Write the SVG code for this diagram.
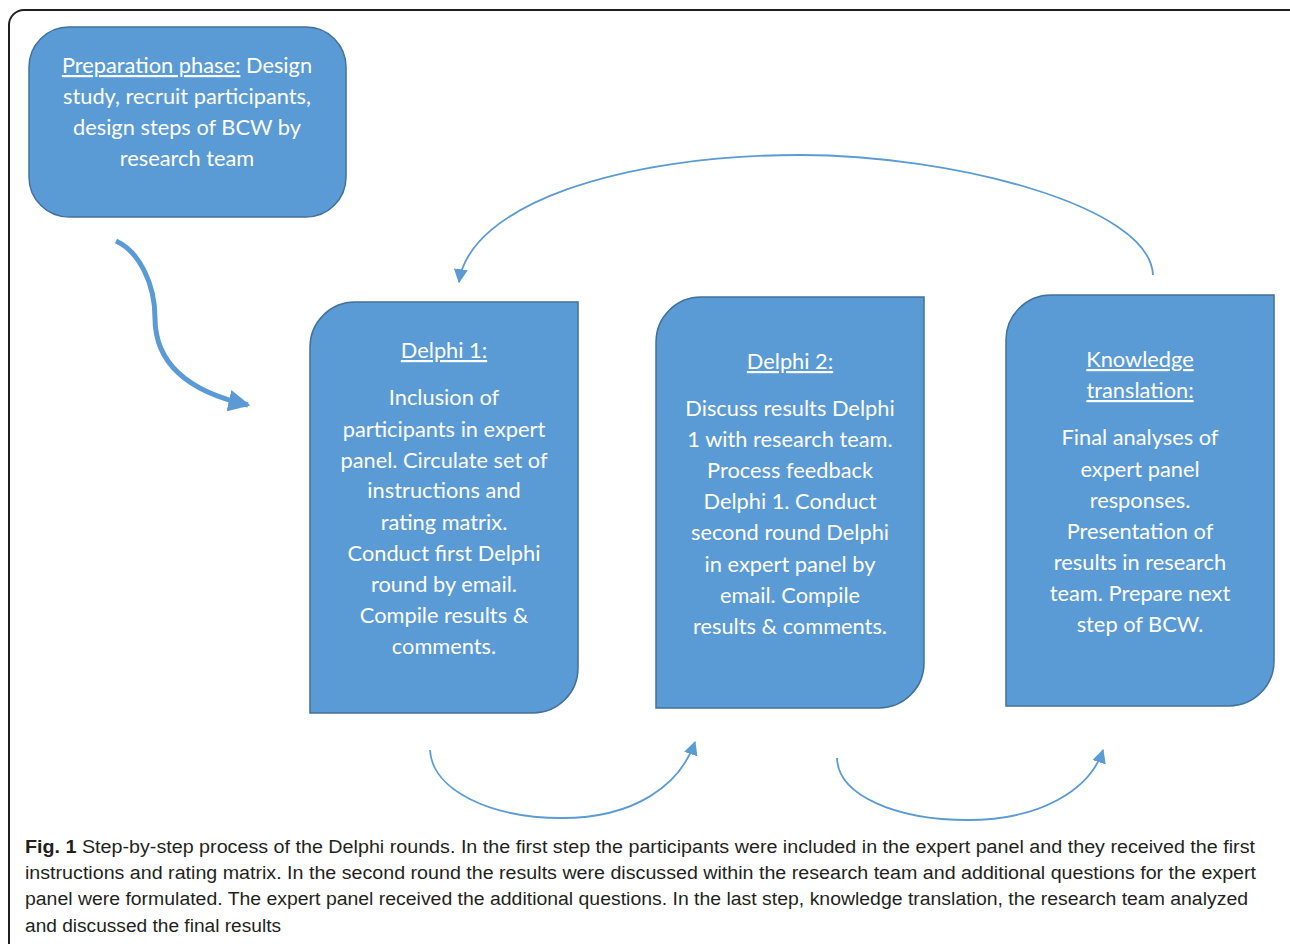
<svg xmlns="http://www.w3.org/2000/svg" width="1290" height="944" viewBox="0 0 1290 944">
<style>
.box{fill:#5B9BD5;stroke:#41719C;stroke-width:1.5}
.t{font-family:Lato,"Liberation Sans",sans-serif;font-size:21.8px;fill:#ffffff;text-anchor:middle}
.u{text-decoration:underline}
.cap{font-family:"Liberation Sans",Arial,sans-serif;font-size:18px;fill:#231f20}
.arc{fill:none;stroke:#5B9BD5;stroke-width:1.8}
</style>
<defs>
<marker id="hbig" markerUnits="userSpaceOnUse" markerWidth="22" markerHeight="22" refX="16" refY="9" orient="auto" viewBox="0 0 18 18">
<path d="M0,0 L18,9 L0,18 Z" fill="#5B9BD5"/>
</marker>
<marker id="hsm" markerUnits="userSpaceOnUse" markerWidth="14" markerHeight="14" refX="11" refY="6" orient="auto" viewBox="0 0 12 12">
<path d="M0,0 L12,6 L0,12 Z" fill="#5B9BD5"/>
</marker>
</defs>
<rect width="1290" height="944" fill="#ffffff"/>
<rect x="9" y="10" width="1300" height="1000" rx="15" fill="none" stroke="#231f20" stroke-width="2"/>

<g id="prep">
<rect class="box" x="29" y="27" width="317" height="190" rx="40"/>
<text class="t"><tspan x="187" y="73"><tspan class="u">Preparation phase:</tspan> Design</tspan><tspan x="187" y="104">study, recruit participants,</tspan><tspan x="187" y="135">design steps of BCW by</tspan><tspan x="187" y="166">research team</tspan></text>
</g>

<g id="delphi1">
<path class="box" d="M355,302 H578 V668 A45,45 0 0 1 533,713 H310 V347 A45,45 0 0 1 355,302 Z"/>
<text class="t"><tspan class="u" x="444" y="358">Delphi 1:</tspan><tspan x="444" y="405">Inclusion of</tspan><tspan x="444" y="437">participants in expert</tspan><tspan x="444" y="468">panel. Circulate set of</tspan><tspan x="444" y="498">instructions and</tspan><tspan x="444" y="530">rating matrix.</tspan><tspan x="444" y="561">Conduct first Delphi</tspan><tspan x="444" y="592">round by email.</tspan><tspan x="444" y="623">Compile results &amp;</tspan><tspan x="444" y="654">comments.</tspan></text>
</g>

<g id="delphi2">
<path class="box" d="M701,297 H924 V663 A45,45 0 0 1 879,708 H656 V342 A45,45 0 0 1 701,297 Z"/>
<text class="t"><tspan class="u" x="790" y="369">Delphi 2:</tspan><tspan x="790" y="416">Discuss results Delphi</tspan><tspan x="790" y="447">1 with research team.</tspan><tspan x="790" y="478">Process feedback</tspan><tspan x="790" y="509">Delphi 1. Conduct</tspan><tspan x="790" y="540">second round Delphi</tspan><tspan x="790" y="572">in expert panel by</tspan><tspan x="790" y="603">email. Compile</tspan><tspan x="790" y="634">results &amp; comments.</tspan></text>
</g>

<g id="knowledge">
<path class="box" d="M1051,295 H1274 V661 A45,45 0 0 1 1229,706 H1006 V340 A45,45 0 0 1 1051,295 Z"/>
<text class="t"><tspan class="u" x="1140" y="367">Knowledge</tspan><tspan class="u" x="1140" y="398">translation:</tspan><tspan x="1140" y="445">Final analyses of</tspan><tspan x="1140" y="477">expert panel</tspan><tspan x="1140" y="508">responses.</tspan><tspan x="1140" y="539">Presentation of</tspan><tspan x="1140" y="570">results in research</tspan><tspan x="1140" y="601">team. Prepare next</tspan><tspan x="1140" y="632">step of BCW.</tspan></text>
</g>

<g id="connectors">
<path d="M116,241 C140,252 155,285 155,318 C155,365 190,392 248,405" fill="none" stroke="#5B9BD5" stroke-width="5" marker-end="url(#hbig)"/>
<path class="arc" d="M1153,275 C1150,205 950,155 800,155 C620,155 470,205 459,282" marker-end="url(#hsm)"/>
<path class="arc" d="M430,750 C432,790 490,818 562,818 C635,818 680,785 695,742" marker-end="url(#hsm)"/>
<path class="arc" d="M837,758 C838,795 895,820 968,820 C1040,820 1090,790 1103,750" marker-end="url(#hsm)" stroke="#8DB9E3"/>
</g>

<g id="caption">
<text class="cap" x="25" y="853" textLength="1230" lengthAdjust="spacingAndGlyphs"><tspan font-weight="bold">Fig. 1</tspan> Step-by-step process of the Delphi rounds. In the first step the participants were included in the expert panel and they received the first</text>
<text class="cap" x="25" y="879" textLength="1231" lengthAdjust="spacingAndGlyphs">instructions and rating matrix. In the second round the results were discussed within the research team and additional questions for the expert</text>
<text class="cap" x="25" y="905" textLength="1223" lengthAdjust="spacingAndGlyphs">panel were formulated. The expert panel received the additional questions. In the last step, knowledge translation, the research team analyzed</text>
<text class="cap" x="25" y="932" textLength="256" lengthAdjust="spacingAndGlyphs">and discussed the final results</text>
</g>
</svg>
